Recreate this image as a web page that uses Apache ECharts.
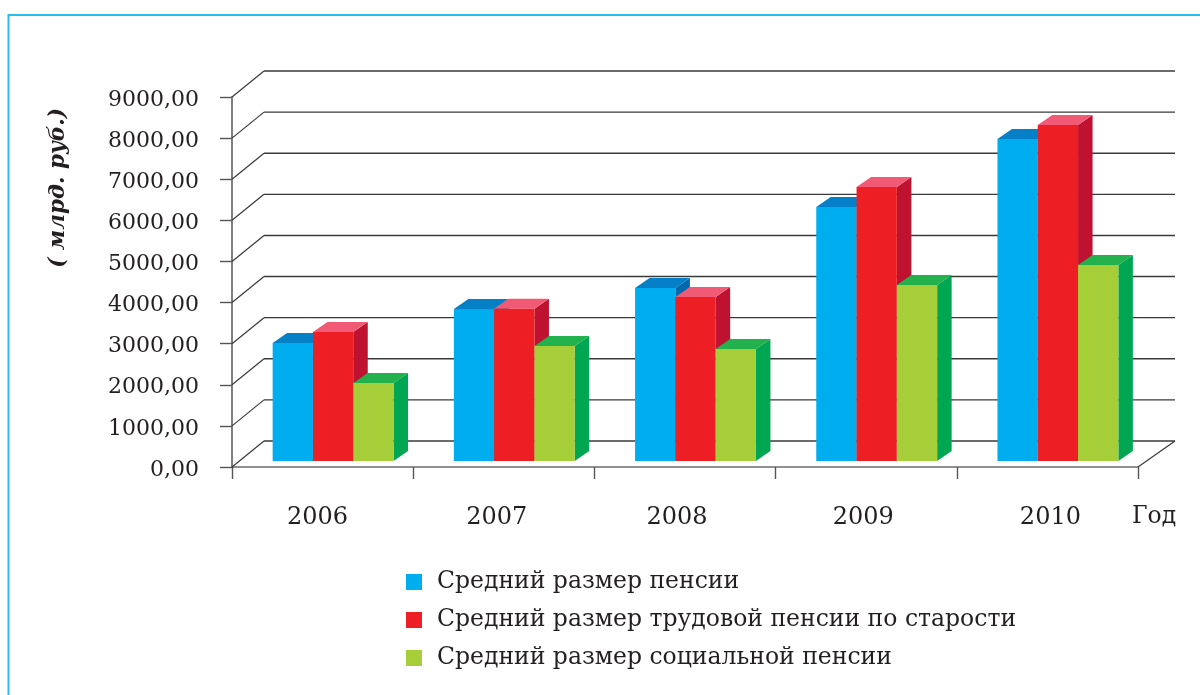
<!DOCTYPE html>
<html>
<head>
<meta charset="utf-8">
<style>html,body{margin:0;padding:0;background:#fff}#c{width:1200px;height:695px}</style>
<script src="https://cdn.jsdelivr.net/npm/echarts@6/dist/echarts.min.js"></script>
</head>
<body>
<div id="c"></div>
<script>
const years = ['2006', '2007', '2008', '2009', '2010'];
const tickValues = [0, 1000, 2000, 3000, 4000, 5000, 6000, 7000, 8000, 9000];
const seriesNames = ['Средний размер пенсии', 'Средний размер трудовой пенсии по старости', 'Средний размер социальной пенсии'];
const avgPension = [2870, 3700, 4210, 6180, 7835];
const laborPension = [3140, 3705, 3990, 6665, 8175];
const socialPension = [1900, 2800, 2725, 4280, 4770];

const FONT = '"DejaVu Serif", serif';
const TEXT = '#231f20';
const palette = [
  {front: '#00aeef', top: '#0580c6', side: '#0069ab'},
  {front: '#ed1f24', top: '#f15a75', side: '#be1230'},
  {front: '#a6ce39', top: '#22b14c', side: '#00a651'}
];
const BAR_W = 40.3, GROUP_SHIFT = 10.5, FLOOR_LIFT = 6, DX = 14.5, DY = 10;
// small horizontal nudges of the year labels, as printed in the source
const LABEL_PAD = [[0, 10, 0, 0], [0, 14, 0, 0], [0, 16, 0, 0], [0, 6, 0, 0], [0, 0, 0, 6]];

function barRender(s) {
  return function (params, api) {
    const p = api.coord([api.value(0), api.value(1)]);
    const b = api.coord([api.value(0), 0]);
    const x = p[0] + GROUP_SHIFT + (s - 1.5) * BAR_W;
    const y = p[1] - FLOOR_LIFT, by = b[1] - FLOOR_LIFT;
    const c = palette[s];
    return {
      type: 'group',
      children: [
        {type: 'polygon', shape: {points: [[x + BAR_W, y], [x + BAR_W + DX, y - DY], [x + BAR_W + DX, by - DY], [x + BAR_W, by]]}, style: {fill: c.side}},
        {type: 'polygon', shape: {points: [[x, y], [x + DX, y - DY], [x + BAR_W + DX, y - DY], [x + BAR_W, y]]}, style: {fill: c.top}},
        {type: 'rect', shape: {x: x, y: y, width: BAR_W, height: by - y}, style: {fill: c.front}}
      ]
    };
  };
}

function wallRender(params, api) {
  const cs = params.coordSys;
  const p = api.coord([0, api.value(0)]);
  const x0 = cs.x, x1 = cs.x + cs.width, y = p[1];
  const sx = 32, sy = 26, endX = x1 + 37;
  const children = [
    {type: 'line', shape: {x1: x0, y1: y, x2: x0 + sx, y2: y - sy}, style: {stroke: '#3a3a3a', lineWidth: 1.2}},
    {type: 'line', shape: {x1: x0 + sx, y1: y - sy, x2: endX, y2: y - sy}, style: {stroke: '#3a3a3a', lineWidth: 1.4}}
  ];
  if (api.value(0) === 0) {
    children.push({type: 'line', shape: {x1: x1, y1: y, x2: endX, y2: y - sy}, style: {stroke: '#3a3a3a', lineWidth: 1.2}});
  }
  return {type: 'group', children: children};
}

const makeBar = (i, vals) => ({
  type: 'custom', name: seriesNames[i], coordinateSystem: 'cartesian2d',
  itemStyle: {color: palette[i].front}, silent: true, z: 3,
  renderItem: barRender(i),
  data: vals.map((v, k) => [k, v]),
  encode: {x: 0, y: 1}
});

const labelRich = {};
LABEL_PAD.forEach((pad, i) => {
  labelRich['l' + i] = {fontFamily: FONT, fontSize: 24, color: TEXT, padding: pad};
});

const chart = echarts.init(document.getElementById('c'), null, {renderer: 'canvas'});
chart.setOption({
  animation: false,
  backgroundColor: '#fff',
  textStyle: {fontFamily: FONT, color: TEXT},
  grid: {left: 232, right: 62, top: 97, bottom: 228, containLabel: false},
  xAxis: {
    type: 'category', data: years,
    axisLine: {lineStyle: {color: '#6d6d6d', width: 1.6}},
    axisTick: {show: true, length: 12, alignWithLabel: false, lineStyle: {color: '#555', width: 1.4}},
    axisLabel: {fontFamily: FONT, fontSize: 24, color: TEXT, margin: 39, interval: 0,
      formatter: (v, i) => '{l' + i + '|' + v + '}', rich: labelRich},
    name: 'Год', nameLocation: 'end', nameGap: -6,
    nameTextStyle: {fontFamily: FONT, fontSize: 23.5, color: TEXT, align: 'left', verticalAlign: 'top', padding: [38, 0, 0, 0]}
  },
  yAxis: {
    type: 'value', min: 0, max: 9000, interval: 1000,
    axisLine: {show: true, lineStyle: {color: '#808080', width: 2}},
    axisTick: {show: true, length: 12, lineStyle: {color: '#555', width: 1.4}},
    splitLine: {show: false},
    axisLabel: {fontFamily: FONT, fontSize: 22, color: TEXT, margin: 33,
      formatter: v => '{t|' + v + ',00}',
      rich: {t: {fontFamily: FONT, fontSize: 22, color: TEXT, padding: [6, 0, 0, 0]}}}
  },
  legend: {
    orient: 'vertical', left: 401, top: 565, itemWidth: 16, itemHeight: 16, itemGap: 14,
    icon: 'rect', selectedMode: false,
    data: seriesNames,
    textStyle: {fontFamily: FONT, fontSize: 23.5, color: TEXT, lineHeight: 24, padding: [0, 0, 0, 10]}
  },
  graphic: [
    {type: 'polyline', silent: true, shape: {points: [[8.5, 695], [8.5, 15], [1200, 15]]}, style: {stroke: '#2bbbed', lineWidth: 2, fill: 'none'}},
    {type: 'text', silent: true, left: 47, top: 108, rotation: Math.PI / 2,
      style: {text: '( млрд. руб.)', font: 'italic bold 21.5px ' + FONT, fill: TEXT, textAlign: 'center', textVerticalAlign: 'middle'}}
  ],
  series: [
    {type: 'custom', coordinateSystem: 'cartesian2d', silent: true, z: 1, renderItem: wallRender,
      data: tickValues.map(v => [v]), encode: {y: 0}},
    makeBar(0, avgPension),
    makeBar(1, laborPension),
    makeBar(2, socialPension)
  ]
});
</script>
</body>
</html>
